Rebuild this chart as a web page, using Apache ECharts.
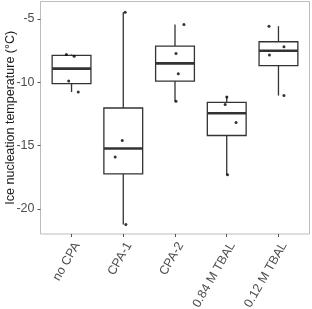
<!DOCTYPE html>
<html>
<head>
<meta charset="utf-8">
<script src="https://cdn.jsdelivr.net/npm/echarts@6/dist/echarts.min.js"></script>
<style>
  html, body { margin: 0; padding: 0; background: #fff; }
  #main { width: 312px; height: 309px; }
</style>
</head>
<body>
<div id="main"></div>
<script>
// categories on the x axis
const categories = ['no CPA', 'CPA-1', 'CPA-2', '0.84 M TBAL', '0.12 M TBAL']

// box statistics: [lower whisker, Q1, median, Q3, upper whisker]
const boxLow = [-10.77, -21.22, -11.50, -17.31, -11.05]
const boxQ1 = [-10.11, -17.23, -9.90, -14.20, -8.69]
const boxMedian = [-8.92, -15.23, -8.51, -12.45, -7.51]
const boxQ3 = [-7.87, -12.03, -7.14, -11.58, -6.80]
const boxHigh = [-7.80, -4.46, -5.43, -11.13, -5.57]

// individual measurements per category and their horizontal jitter (category units)
const pointValues = [
  [-7.80, -7.95, -9.90, -10.77],
  [-4.46, -14.60, -15.89, -21.22],
  [-5.43, -7.72, -9.32, -11.50],
  [-11.16, -11.76, -13.18, -17.31],
  [-5.57, -7.19, -7.85, -11.05]
]
const pointJitter = [
  [-0.10, 0.05, -0.055, 0.13],
  [0.037, -0.02, -0.156, 0.05],
  [0.173, 0.019, 0.064, 0.019],
  [0.002, -0.03, 0.18, 0.015],
  [-0.183, 0.106, -0.175, 0.106]
]

// tick positions
const yTicks = [-20, -15, -10, -5]
const xTicks = categories.map((c, i) => i)

const font = 'Liberation Sans, Arial, Helvetica, sans-serif'
const lineColor = '#333333'

const boxData = categories.map((c, i) => [i, boxLow[i], boxQ1[i], boxMedian[i], boxQ3[i], boxHigh[i]])
const pointData = []
pointValues.forEach((vals, i) => {
  vals.forEach((v, j) => {
    pointData.push([i + pointJitter[i][j], v])
  })
})

const chart = echarts.init(document.getElementById('main'), null, { renderer: 'canvas' })

const option = {
  animation: false,
  textStyle: { fontFamily: font },
  grid: {
    left: 40.5,
    right: 2.5,
    top: 1.5,
    bottom: 75,
    show: true,
    borderColor: '#bdbdbd',
    borderWidth: 1,
    backgroundColor: '#fff',
    containLabel: false,
    outerBoundsMode: 'none'
  },
  xAxis: {
    type: 'value',
    min: -0.6,
    max: 4.6,
    axisLine: { show: false, onZero: false },
    axisTick: {
      show: true,
      length: 3,
      customValues: xTicks,
      lineStyle: { color: '#555', width: 1 }
    },
    axisLabel: {
      customValues: xTicks,
      formatter: v => categories[Math.round(v)],
      rotate: 60,
      margin: 6,
      fontSize: 12.5,
      fontFamily: font,
      color: '#4d4d4d',
      align: 'right',
      verticalAlign: 'top'
    },
    splitLine: { show: false }
  },
  yAxis: {
    type: 'value',
    min: -21.98,
    max: -3.62,
    name: 'Ice nucleation temperature (°C)',
    nameLocation: 'middle',
    nameGap: 23,
    nameMoveOverlap: false,
    nameTextStyle: { fontSize: 12.5, fontFamily: font, color: '#1a1a1a' },
    axisLine: { show: false, onZero: false },
    axisTick: {
      show: true,
      length: 3,
      customValues: yTicks,
      lineStyle: { color: '#555', width: 1 }
    },
    axisLabel: {
      customValues: yTicks,
      fontSize: 12.5,
      fontFamily: font,
      color: '#4d4d4d',
      margin: 6
    },
    splitLine: { show: false }
  },
  series: [
    {
      type: 'custom',
      data: boxData,
      renderItem(params, api) {
        const x = api.coord([api.value(0), 0])[0]
        const yLow = api.coord([api.value(0), api.value(1)])[1]
        const yQ1 = api.coord([api.value(0), api.value(2)])[1]
        const yMed = api.coord([api.value(0), api.value(3)])[1]
        const yQ3 = api.coord([api.value(0), api.value(4)])[1]
        const yHigh = api.coord([api.value(0), api.value(5)])[1]
        const bw = api.size([0.75, 0])[0]
        const st = { stroke: lineColor, lineWidth: 1.3 }
        return {
          type: 'group',
          children: [
            { type: 'line', shape: { x1: x, y1: yHigh, x2: x, y2: yQ3 }, style: st },
            { type: 'line', shape: { x1: x, y1: yQ1, x2: x, y2: yLow }, style: st },
            {
              type: 'rect',
              shape: { x: x - bw / 2, y: yQ3, width: bw, height: yQ1 - yQ3 },
              style: { fill: '#fff', stroke: lineColor, lineWidth: 1.3 }
            },
            {
              type: 'line',
              shape: { x1: x - bw / 2, y1: yMed, x2: x + bw / 2, y2: yMed },
              style: { stroke: lineColor, lineWidth: 2.6 }
            }
          ]
        }
      }
    },
    {
      type: 'scatter',
      data: pointData,
      symbol: 'circle',
      symbolSize: 3,
      itemStyle: { color: '#000' },
      z: 5
    }
  ]
}

chart.setOption(option)
</script>
</body>
</html>
